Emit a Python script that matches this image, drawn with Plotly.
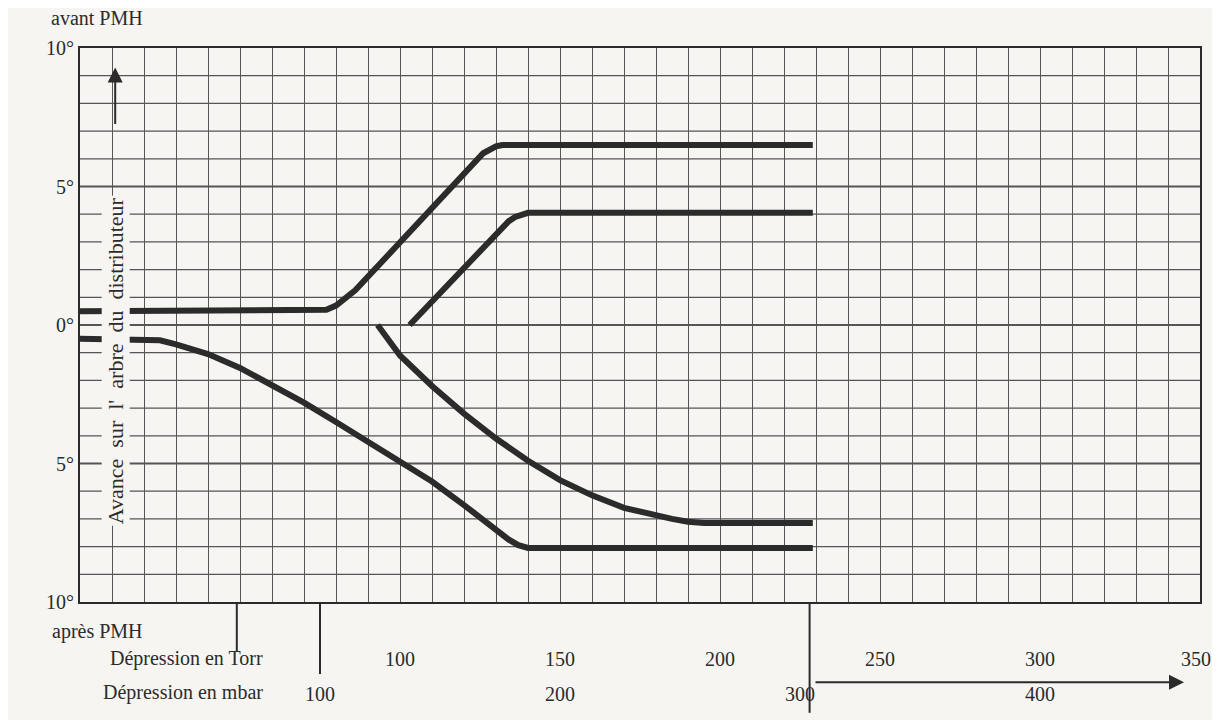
import plotly.graph_objects as go

# courbes d'avance (Torr, degrés ; positif = avant PMH)
c1_x = [0, 74, 77, 80, 83, 86, 126, 128, 130, 132, 229]
c1_y = [0.5, 0.5, 0.55, 0.7, 0.95, 1.25, 6.2, 6.35, 6.45, 6.5, 6.5]
c2_x = [103, 134, 136, 138, 140, 229]
c2_y = [0, 3.75, 3.9, 4.0, 4.05, 4.05]
c3_x = [0, 20, 25, 30, 35, 40, 50, 60, 70, 80, 90, 100, 110, 120, 130, 134, 137, 140, 229]
c3_y = [-0.5, -0.5, -0.55, -0.7, -0.85, -1.05, -1.55, -2.15, -2.8, -3.5, -4.2, -4.9, -5.65, -6.5, -7.4, -7.75, -7.95, -8.05, -8.05]
c4_x = [93, 100, 110, 120, 130, 140, 150, 160, 170, 180, 185, 190, 195, 229]
c4_y = [0, -1.1, -2.2, -3.2, -4.1, -4.9, -5.6, -6.15, -6.6, -6.9, -7.0, -7.1, -7.15, -7.15]

torr_ticks = [100, 150, 200, 250, 300, 350]
mbar_ticks = [100, 200, 300, 400]
y_ticks = [10, 5, 0, -5, -10]
y_labels = ["10°", "5°", "0°", "5°", "10°"]

ink = "#2b2b2b"
bg = "#f6f5f1"
fig = go.Figure()
for xs, ys in [(c1_x, c1_y), (c2_x, c2_y), (c3_x, c3_y), (c4_x, c4_y)]:
    fig.add_trace(go.Scatter(x=xs, y=ys, mode="lines", line=dict(color=ink, width=6),
                             showlegend=False, hoverinfo="skip", cliponaxis=True))

fig.update_layout(
    width=1212, height=712,
    margin=dict(l=72, r=20, t=40, b=118, autoexpand=False),
    paper_bgcolor=bg, plot_bgcolor=bg,
    font=dict(family="Liberation Serif", size=20, color=ink),
    xaxis=dict(range=[0, 350], dtick=10, showticklabels=False, gridcolor="#555",
               gridwidth=1.2, zeroline=False, showline=True, linecolor=ink, linewidth=2, mirror=True),
    yaxis=dict(range=[-10, 10], tickvals=y_ticks, ticktext=y_labels, showgrid=False,
               zeroline=False, showline=True, linecolor=ink,
               linewidth=2, mirror=True, ticks="", tickfont=dict(size=20)),
)
# grille horizontale à chaque degré
for v in range(-9, 10):
    fig.add_hline(y=v, line=dict(color="#555", width=1.2 if v % 5 else 2), layer="below")

fig.add_annotation(x=0, y=1.078, xref="paper", yref="paper", text="avant PMH",
                   showarrow=False, xanchor="right", xshift=65, font=dict(size=20))
fig.add_annotation(x=0, y=-0.078, xref="paper", yref="paper", text="après PMH",
                   showarrow=False, xanchor="right", xshift=65, font=dict(size=20))
fig.add_annotation(x=0, y=-0.127, xref="paper", yref="paper", text="Dépression en Torr",
                   showarrow=False, xanchor="right", xshift=185, font=dict(size=20))
fig.add_annotation(x=0, y=-0.187, xref="paper", yref="paper", text="Dépression en mbar",
                   showarrow=False, xanchor="right", xshift=185, font=dict(size=20))
for t in torr_ticks:
    fig.add_annotation(x=t, y=-0.127, xref="x", yref="paper", text=str(t),
                       showarrow=False, font=dict(size=20), xshift=-4 if t == 350 else 0)
for m in mbar_ticks:
    fig.add_annotation(x=m * 0.75, y=-0.19, xref="x", yref="paper", text=str(m),
                       showarrow=False, font=dict(size=20))

# séparateurs verticaux sous l'axe
for xv, y0 in [(49, -0.09), (75, -0.13), (228, -0.2)]:
    fig.add_shape(type="line", x0=xv, x1=xv, y0=y0, y1=0, xref="x", yref="paper",
                  line=dict(color=ink, width=2))
# flèches
fig.add_annotation(x=345, y=-0.145, ax=-370, ay=0, xref="x", yref="paper",
                   text="", showarrow=True, arrowhead=2,
                   arrowsize=1.5, arrowwidth=2, arrowcolor=ink)
fig.add_annotation(x=11, y=9.3, ax=11, ay=7.2, xref="x", yref="y", axref="x", ayref="y",
                   text="", showarrow=True, arrowhead=2, arrowsize=1.5, arrowwidth=2,
                   arrowcolor=ink)
fig.add_annotation(x=11, y=-1.3, xref="x", yref="y",
                   text="Avance  sur  l'  arbre  du  distributeur".replace("  ", "&nbsp;&nbsp;"),
                   textangle=-90, showarrow=False, bgcolor=bg, font=dict(size=22))

fig.write_html("out.html")
